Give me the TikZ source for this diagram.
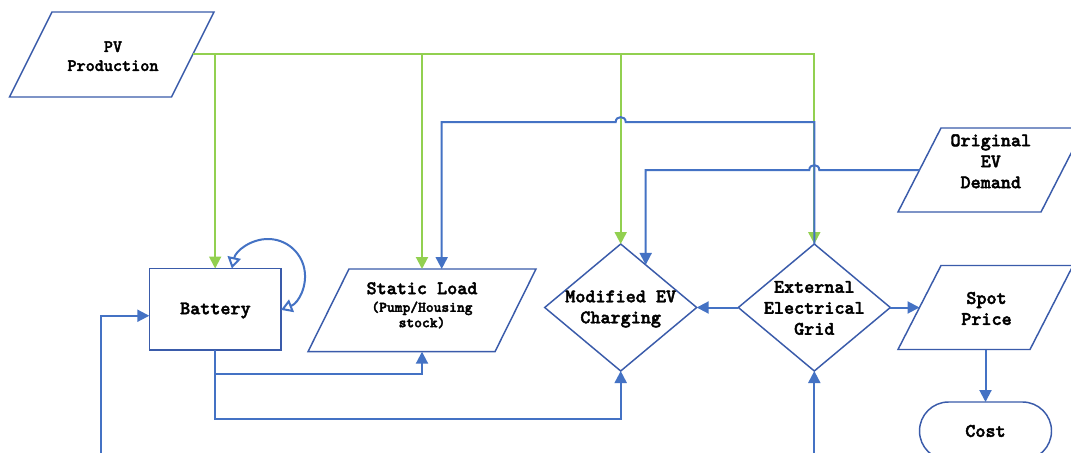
\documentclass[tikz,border=0pt]{standalone}
\usepackage{fontspec}
\newfontfamily\flowfont{lmmonolt10-bold.otf}[FakeBold=2.2]
\usetikzlibrary{arrows.meta,calc}

\definecolor{flowblue}{HTML}{4472C4}
\definecolor{edgeblue}{HTML}{3A5BAA}
\definecolor{pvgreen}{HTML}{92D050}

% parallelogram outline inside a frame node: #1 node name, #2 horizontal slant
\newcommand\paradraw[2]{%
  \draw[outline] (#1.south west) -- ($(#1.south east)-(#2,0)$) --
    (#1.north east) -- ($(#1.north west)+(#2,0)$) -- cycle;}
% diamond outline inside a frame node
\newcommand\diamonddraw[1]{%
  \draw[outline] (#1.north) -- (#1.east) -- (#1.south) -- (#1.west) -- cycle;}

\tikzset{
  frame/.style={inner sep=0pt, outer sep=0pt},
  outline/.style={draw=edgeblue, line width=1.1pt, line join=miter},
  txt/.style={font=\flowfont\fontsize{14.4}{15.75}\selectfont,
    align=center, inner sep=0pt},
  pvtxt/.style={font=\flowfont\fontsize{13}{14.25}\selectfont,
    align=center, inner sep=0pt},
  subtxt/.style={font=\flowfont\fontsize{11.1}{11.55}\selectfont,
    align=center, inner sep=0pt},
  solidtip/.tip={Triangle[length=9pt,width=9pt]},
  opentip/.tip={Triangle[open,length=8.5pt,width=10pt]},
  flow/.style={draw=flowblue, line width=1.5pt, -solidtip},
  feed/.style={draw=pvgreen, line width=1.5pt, -solidtip},
}

\begin{document}
\begin{tikzpicture}[x=0.75pt,y=-0.75pt]
\useasboundingbox[fill=white] (0,0) rectangle (1071,453);

% ---- shapes ----
\node[frame, minimum width=204.5*0.75pt, minimum height=85*0.75pt] (pv) at (111.75,54.5) {};
\paradraw{pv}{42.5}
\node[pvtxt] (pvt) at (113,56.2) {PV\\Production};

\node[frame, outline, minimum width=131.7*0.75pt, minimum height=81.5*0.75pt] (battery) at (215.15,309.25) {};
\node[txt] (batteryt) at (215.4,310.5) {Battery};

\node[frame, minimum width=228*0.75pt, minimum height=82.7*0.75pt] (static) at (422,310.35) {};
\paradraw{static}{41}
\node[txt] (statict) at (422,288.3) {Static Load};
\node[subtxt] (staticsub) at (422,315) {(Pump/Housing\\stock)};

\node[frame, minimum width=152*0.75pt, minimum height=127*0.75pt] (modev) at (620.7,307.5) {};
\diamonddraw{modev}
\node[txt] (modevt) at (620.7,309) {Modified EV\\Charging};

\node[frame, minimum width=152*0.75pt, minimum height=127*0.75pt] (grid) at (814.3,307.5) {};
\diamonddraw{grid}
\node[txt] (gridt) at (814.3,308) {External\\Electrical\\Grid};

\node[frame, minimum width=186*0.75pt, minimum height=84*0.75pt] (origev) at (991,170) {};
\paradraw{origev}{43}
\node[txt] (origevt) at (990.8,161.3) {Original\\EV\\Demand};

\node[frame, minimum width=175*0.75pt, minimum height=84*0.75pt] (spot) at (985.5,307.5) {};
\paradraw{spot}{43}
\node[txt] (spott) at (986.5,308.5) {Spot\\Price};

\node[frame, outline, rounded corners=21.75pt, minimum width=132*0.75pt,
  minimum height=58*0.75pt, txt] (cost) at (985.5,431) {Cost};

% ---- PV feed lines ----
\coordinate (pvout) at ($(pv.east)-(21.25,0)$);
\draw[feed] (pvout) -- (pvout -| grid.north) -- (grid.north);
\draw[feed] (pvout -| battery.north) -- (battery.north);
\draw[feed] (pvout -| static.north) -- (static.north);
\draw[feed] (pvout -| modev.north) -- (modev.north);

% ---- grid to static load, hopping over the feed line ----
\coordinate (slin) at ($(static.north)+(19.7,0)$);
\draw[flow] (grid.north) -- ++(0,-122) -- (625.7,122)
  .. controls (625.7,115.5) and (615.7,115.5) .. (615.7,122) -| (slin);

% ---- original EV demand to modified charging ----
\coordinate (evout) at ($(origev.west)+(21.5,0)$);
\coordinate (mevin) at ($(modev.north)!0.329!(modev.east)$);
\draw[flow] (evout) -- (819.3,170)
  .. controls (819.3,163.5) and (809.3,163.5) .. (809.3,170) -| (mevin);

% ---- battery outputs ----
\draw[flow] (battery.south) -- ++(0,24) -| (static.south);
\draw[flow] (battery.south) -- ++(0,68.7) -| (modev.south);

% ---- battery self loop ----
\draw[flow, opentip-opentip] ($(battery.north)+(16.7,0)$)
  .. controls (235.66,250.94) and (250.84,238.86) .. (268.30,239.0)
  .. controls (285.76,239.14) and (300.75,251.47) .. (304.25,268.58)
  .. controls (307.75,285.69) and (298.81,302.92) .. ($(battery.east)+(0,0.65)$);

% ---- incoming lines from below ----
\coordinate (batsrc) at (100.7,456);
\draw[flow] (batsrc) |- ($(battery.west)+(0,6.5)$);
\coordinate (gridsrc) at (814.3,456);
\draw[flow] (gridsrc) -- (grid.south);

% ---- grid outputs ----
\draw[flow] (grid.west) -- (modev.east);
\coordinate (spotin) at ($(spot.west)+(21.5,0)$);
\draw[flow] (grid.east) -- (spotin);
\draw[flow] (spot.south) -- (cost.north);
\end{tikzpicture}
\end{document}
